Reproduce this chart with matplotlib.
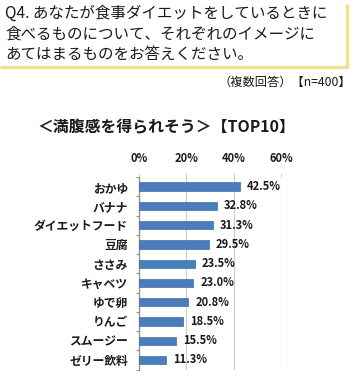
import matplotlib
matplotlib.use("Agg")
import matplotlib.pyplot as plt
from matplotlib.lines import Line2D
import numpy as np

plt.rcParams['font.family'] = ['Noto Sans CJK JP', 'DejaVu Sans']

categories = ["おかゆ", "バナナ", "ダイエットフード", "豆腐", "ささみ",
              "キャベツ", "ゆで卵", "りんご", "スムージー", "ゼリー飲料"]
values = [42.5, 32.8, 31.3, 29.5, 23.5, 23.0, 20.8, 18.5, 15.5, 11.3]
xticks = [0, 20, 40, 60]
xticklabels = ["0%", "20%", "40%", "60%"]

title_lines = ["Q4. あなたが食事ダイエットをしているときに",
               "食べるものについて、それぞれのイメージに",
               "あてはまるものをお答えください。"]
note = "（複数回答）【n=400】"
subtitle = "＜満腹感を得られそう＞【TOP10】"

W, H = 357, 380
fig = plt.figure(figsize=(W / 100, H / 100), dpi=100)
fig.patch.set_facecolor("white")

def fx(px):
    return px / W

def fy(py):
    return 1 - py / H

# Title box shadow lines (yellow)
yellow = "#F6DF8C"
fig.add_artist(Line2D([fx(0), fx(348)], [fy(67), fy(67)], color=yellow, lw=2.4,
                      transform=fig.transFigure, solid_capstyle="butt"))
fig.add_artist(Line2D([fx(346.5), fx(346.5)], [fy(4), fy(68)], color=yellow, lw=2.4,
                      transform=fig.transFigure, solid_capstyle="butt"))

for i, line in enumerate(title_lines):
    fig.text(fx(5), fy(13.5 + i * 20.5), line, fontsize=11.2, va="center", ha="left",
             color="#1a1a1a")

fig.text(fx(351), fy(82), note, fontsize=8.8, va="center", ha="right", color="#1a1a1a")
fig.text(fx(37), fy(127), subtitle, fontsize=11.4, va="center", ha="left",
         fontweight="bold", color="#1a1a1a")

ax = fig.add_axes([fx(139), 1 - 369.6 / H, 142 / W, 192.6 / H])
y = np.arange(len(categories))
ax.barh(y, values, height=0.43, color="#4A7EBB", edgecolor="#3F6EA6", linewidth=0.5,
        zorder=3)
ax.set_xlim(0, 60)
ax.set_ylim(len(categories) - 0.5, -0.5)

ax.set_xticks(xticks)
ax.set_xticklabels(xticklabels, fontsize=8, fontweight="bold", color="#1a1a1a")
ax.xaxis.tick_top()
ax.tick_params(axis="x", which="major", length=3, color="#D0D0D0", pad=6)
ax.grid(axis="x", color="#D0D0D0", linewidth=0.9, zorder=0)

ax.set_yticks(y)
ax.set_yticklabels(categories, fontsize=8.5, fontweight="bold", color="#1a1a1a")
ax.tick_params(axis="y", which="major", length=0, pad=8)
ax.set_yticks(np.arange(len(categories) + 1) - 0.5, minor=True)
ax.tick_params(axis="y", which="minor", length=2.5, color="#909090", width=0.8)

for s in ["top", "right", "bottom"]:
    ax.spines[s].set_visible(False)
ax.spines["left"].set_color("#909090")
ax.spines["left"].set_linewidth(0.9)

for yi, v in zip(y, values):
    ax.annotate(f"{v:.1f}%", (v, yi), xytext=(5, 0), textcoords="offset points",
                va="center", ha="left", fontsize=8.0, fontweight="bold", color="#1a1a1a")

fig.savefig("out.png", dpi=100, facecolor="white")
